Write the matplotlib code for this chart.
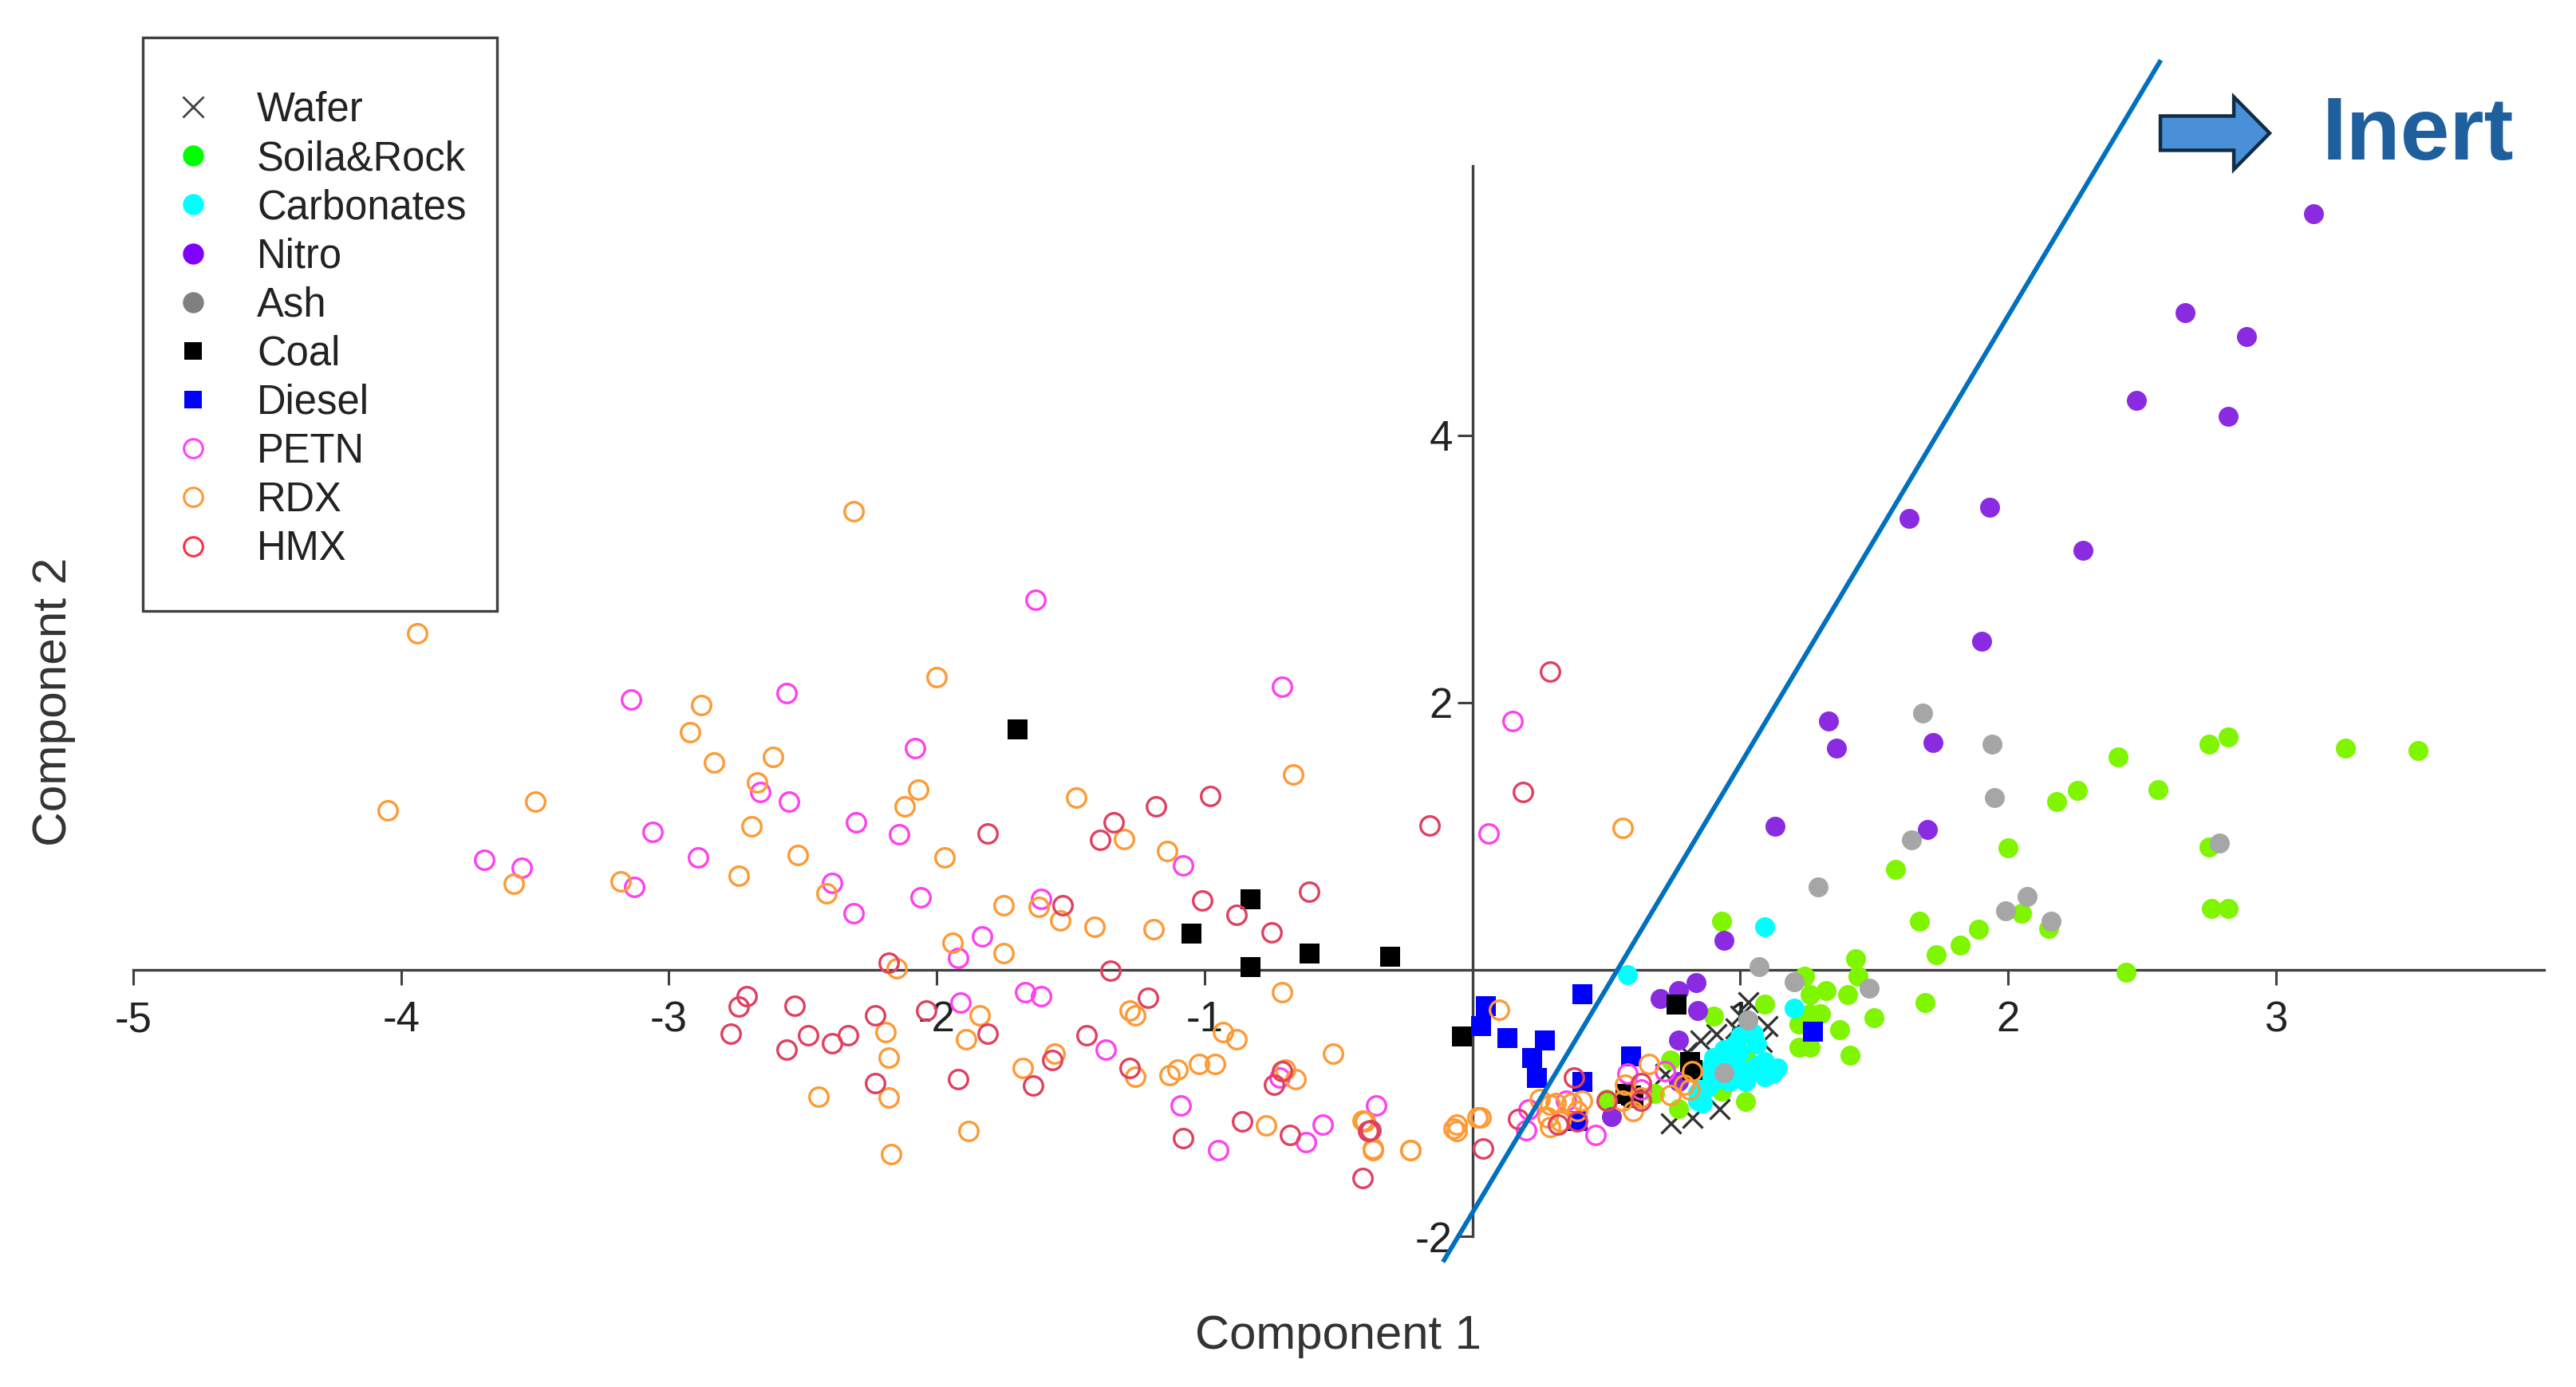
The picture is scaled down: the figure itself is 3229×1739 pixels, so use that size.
import matplotlib
matplotlib.use("Agg")
import matplotlib.pyplot as plt
from matplotlib.lines import Line2D
from matplotlib.patches import Rectangle, FancyArrow

plt.rcParams['font.family'] = ['Liberation Sans', 'DejaVu Sans']
plt.rcParams['axes.unicode_minus'] = False

## PCA scores, (component 1, component 2)
wafer = [(0.74,-1.15),(0.82,-1.11),(0.92,-1.04),(1.08,-0.54),(1.00,-0.34),(1.03,-0.24),(0.85,-0.53),
         (0.91,-0.48),(0.98,-0.44),(0.80,-0.62),(1.10,-0.42),(0.72,-0.78)]
soil = [(2.41,1.59),(2.18,1.26),(2.26,1.34),(2.56,1.35),(2.75,1.69),(2.82,1.74),(3.26,1.66),(3.53,1.64),
        (2.00,0.91),(1.58,0.75),(1.67,0.36),(1.73,0.11),(1.82,0.18),(1.89,0.30),(2.05,0.42),(2.15,0.31),
        (2.44,-0.02),(2.76,0.46),(2.82,0.46),(2.75,0.92),(1.69,-0.25),(0.93,0.36),(1.43,0.08),(1.44,-0.05),
        (1.24,-0.05),(1.26,-0.19),(1.32,-0.16),(1.40,-0.19),(1.09,-0.26),(0.90,-0.35),(1.26,-0.33),(1.30,-0.33),
        (1.22,-0.41),(1.50,-0.36),(1.37,-0.45),(1.22,-0.58),(1.26,-0.58),(1.41,-0.64),(1.02,-0.66),(1.00,-0.66),
        (0.74,-0.68),(0.93,-0.91),(1.02,-0.99),(0.77,-1.04),(0.68,-0.93),(0.50,-0.97)]
carbonates = [(1.09,0.32),(0.58,-0.04),(1.20,-0.29),(1.03,-0.38),(1.05,-0.48),(0.98,-0.56),(0.90,-0.66),
              (1.09,-0.69),(1.12,-0.78),(1.09,-0.80),(1.02,-0.84),(0.98,-0.72),(0.86,-0.80),(0.88,-0.88),
              (0.84,-0.98),(0.94,-0.60),(0.90,-0.74),(1.03,-0.76),(0.95,-0.68),(1.06,-0.72),(0.84,-0.92),
              (0.88,-0.75),(0.92,-0.82),(1.00,-0.62),(1.06,-0.56),(1.08,-0.74),(0.96,-0.84),(1.14,-0.74),
              (0.86,-1.00),(1.00,-0.50)]
nitro = [(3.14,5.66),(2.66,4.92),(2.89,4.74),(2.48,4.26),(2.82,4.14),(2.28,3.14),(1.93,3.46),(1.63,3.38),
         (1.90,2.46),(1.33,1.86),(1.36,1.66),(1.72,1.70),(1.70,1.05),(1.13,1.07),(0.94,0.22),(0.835,-0.10),
         (0.77,-0.16),(0.70,-0.22),(0.84,-0.31),(0.77,-0.53),(0.52,-1.10),(0.77,-0.84)]
ash = [(1.68,1.92),(1.94,1.69),(1.95,1.29),(1.64,0.97),(1.29,0.62),(2.07,0.55),(1.99,0.44),(2.16,0.36),
       (2.79,0.95),(1.07,0.02),(1.20,-0.09),(1.48,-0.14),(1.03,-0.38),(0.94,-0.77)]
coal = [(-1.70,1.80),(-0.83,0.53),(-1.05,0.27),(-0.83,0.02),(-0.61,0.12),(-0.31,0.10),(-0.04,-0.50),
        (0.76,-0.26),(0.81,-0.69),(0.82,-0.75),(0.59,-0.94),(0.57,-0.93),(0.60,-0.96)]
diesel = [(0.05,-0.27),(0.03,-0.42),(0.13,-0.51),(0.27,-0.53),(0.22,-0.66),(0.24,-0.81),(0.41,-0.18),
          (0.41,-0.84),(0.59,-0.65),(0.39,-1.13),(1.27,-0.46)]
petn = [(-1.63,2.77),(-0.71,2.12),(0.15,1.86),(0.06,1.02),(-3.14,2.02),(-2.56,2.07),(-2.08,1.66),(-2.66,1.33),
        (-2.55,1.26),(-2.30,1.10),(-2.14,1.01),(-3.06,1.03),(-2.89,0.84),(-3.69,0.82),(-3.55,0.76),(-3.13,0.62),
        (-2.39,0.65),(-2.31,0.42),(-2.06,0.54),(-1.61,0.53),(-1.08,0.78),(-1.83,0.25),(-1.92,0.09),(-1.91,-0.25),
        (-1.67,-0.17),(-1.61,-0.20),(-1.37,-0.60),(-1.09,-1.02),(-0.95,-1.35),(-0.62,-1.29),(-0.56,-1.16),
        (-0.36,-1.02),(-0.72,-0.81),(0.58,-0.78),(0.72,-0.76),(0.35,-0.98),(0.21,-1.05),(0.20,-1.20),(0.46,-1.24),
        (0.63,-0.90)]
rdx = [(-3.94,2.52),(-2.31,3.43),(-2.00,2.19),(-2.88,1.98),(-2.92,1.78),(-2.83,1.55),(-2.61,1.59),(-2.67,1.40),
       (-2.69,1.07),(-4.05,1.19),(-3.50,1.26),(-3.58,0.64),(-3.18,0.66),(-2.74,0.70),(-2.52,0.86),(-2.41,0.57),
       (-2.12,1.22),(-2.07,1.35),(-1.97,0.84),(-1.75,0.48),(-1.62,0.47),(-1.54,0.37),(-1.41,0.32),(-1.48,1.29),
       (-1.30,0.98),(-1.14,0.89),(-1.19,0.30),(-0.67,1.46),(0.56,1.06),(-1.94,0.20),(-1.75,0.12),(-2.15,0.01),
       (-0.71,-0.17),(-1.28,-0.31),(-1.26,-0.34),(-1.84,-0.34),(-2.19,-0.47),(-2.18,-0.66),(-1.89,-0.52),
       (-1.56,-0.63),(-1.68,-0.74),(-1.26,-0.80),(-1.13,-0.79),(-1.10,-0.75),(-1.02,-0.71),(-0.96,-0.71),
       (-0.93,-0.47),(-0.88,-0.52),(-0.70,-0.75),(-0.66,-0.82),(-0.52,-0.63),(-0.77,-1.17),(-0.41,-1.13),
       (-0.37,-1.34),(-0.23,-1.35),(-2.17,-1.38),(-1.88,-1.21),(-2.44,-0.95),(-2.18,-0.96),(-0.07,-1.19),
       (0.02,-1.11),(0.10,-0.30),(0.03,-1.11),(-0.06,-1.16),(-0.06,-1.21),(-0.23,-1.35),(-0.37,-1.35),(-0.40,-1.14),
       (0.66,-0.71),(0.82,-0.76),(0.79,-0.86),(0.81,-0.90),(0.74,-0.94),(0.57,-0.86),(0.56,-0.98),(0.63,-0.96),
       (0.60,-1.06),(0.25,-0.97),(0.29,-1.01),(0.41,-0.98),(0.28,-1.11),(0.33,-1.14),(0.29,-1.18),(0.39,-1.06),
       (0.37,-1.00),(0.31,-1.00)]
hmx = [(0.29,2.23),(0.19,1.33),(-0.16,1.08),(-0.98,1.30),(-1.18,1.22),(-1.34,1.10),(-1.39,0.97),(-1.81,1.02),
       (-1.01,0.52),(-0.88,0.41),(-0.75,0.28),(-0.61,0.58),(-1.53,0.48),(-1.35,-0.01),(-2.18,0.05),(-2.71,-0.20),
       (-2.74,-0.28),(-2.77,-0.48),(-2.53,-0.27),(-2.48,-0.49),(-2.56,-0.60),(-2.39,-0.55),(-2.33,-0.49),
       (-2.23,-0.34),(-2.04,-0.31),(-1.81,-0.48),(-2.23,-0.85),(-1.92,-0.82),(-1.64,-0.87),(-1.44,-0.49),
       (-1.21,-0.21),(-1.28,-0.74),(-1.57,-0.68),(-1.08,-1.26),(-0.86,-1.14),(-0.68,-1.24),(-0.74,-0.86),
       (-0.71,-0.76),(-0.39,-1.21),(-0.41,-1.56),(0.04,-1.34),(0.38,-0.81),(0.50,-0.98),(0.63,-0.85),(0.17,-1.12),
       (0.32,-1.16),(0.39,-1.14),(-0.38,-1.20),(0.63,-0.98)]

labels = ['Wafer', 'Soila&Rock', 'Carbonates', 'Nitro', 'Ash', 'Coal', 'Diesel', 'PETN', 'RDX', 'HMX']
all_series = [wafer, soil, carbonates, nitro, ash, coal, diesel, petn, rdx, hmx]
markers = ['x', 'o', 'o', 'o', 'o', 's', 's', 'o', 'o', 'o']
colors = ['#333333', '#7FF500', '#00FFFF', '#8A2BE2', '#A6A6A6', '#000000', '#0000FF', '#FF40F0', '#FF9933', '#E0405F']
legend_colors = ['#444444', '#00FF00', '#00FFFF', '#7F00FF', '#808080', '#000000', '#0000FF', '#FF40FF', '#FF9933', '#FF3040']
hollow = [False, False, False, False, False, False, False, True, True, True]

boundary_x = [-0.11, 2.57]
boundary_y = [-2.19, 6.81]

x_ticks = [-5, -4, -3, -2, -1, 1, 2, 3]
y_ticks = [-2, 2, 4]

fig = plt.figure(figsize=(32.3, 17.39), dpi=100)
ax = fig.add_axes([0, 0, 1, 1])
ax.set_xlim(-5.497, 4.123)
ax.set_ylim(-3.126, 7.26)
ax.patch.set_alpha(0)

for i in range(len(all_series)):
    xs = [p[0] for p in all_series[i]]
    ys = [p[1] for p in all_series[i]]
    if markers[i] == 'x':
        ax.plot(xs, ys, 'x', color=colors[i], ms=18, mew=2.4, zorder=3)
    elif hollow[i]:
        ax.plot(xs, ys, 'o', mfc='none', mec=colors[i], ms=17, mew=2.4, zorder=3)
    else:
        ax.plot(xs, ys, markers[i], color=colors[i], ms=18, mew=0, zorder=3)

ax.plot(boundary_x, boundary_y, '-', color='#0070C0', lw=4.2, zorder=4, solid_capstyle='butt')

## axes cross at the origin
for side in ['top', 'right']:
    ax.spines[side].set_visible(False)
ax.spines['bottom'].set_position(('data', 0))
ax.spines['left'].set_position(('data', 0))
ax.spines['bottom'].set_bounds(-5, 4.0)
ax.spines['left'].set_bounds(-2, 6.02)
ax.spines['bottom'].set_linewidth(2.4)
ax.spines['left'].set_linewidth(2.4)
ax.spines['bottom'].set_color('#404040')
ax.spines['left'].set_color('#404040')
ax.set_xticks(x_ticks)
ax.set_yticks(y_ticks)
ax.tick_params(axis='x', direction='out', length=14, width=2.2, color='#404040', labelsize=38, pad=14, labelcolor='#222222')
ax.tick_params(axis='y', direction='out', length=14, width=2.2, color='#404040', labelsize=38, pad=4, labelcolor='#222222')

ax.text(0.5192, 0.0365, 'Component 1', transform=ax.transAxes, fontsize=43, color='#333333', ha='center', va='center')
ax.text(0.0208, 0.4942, 'Component 2', transform=ax.transAxes, fontsize=43.5, color='#333333', ha='center', va='center', rotation=90)

## legend box is separate from the legend so the padding can be set freely
ax.add_patch(Rectangle((0.0553, 0.5595), 0.1375, 0.4132, transform=ax.transAxes, fc='white', ec='#404040', lw=2.4, zorder=5))
handles = []
for i in range(len(labels)):
    if hollow[i]:
        h = Line2D([], [], ls='none', marker='o', mfc='none', mec=legend_colors[i], ms=17, mew=2.2)
    elif markers[i] == 'x':
        h = Line2D([], [], ls='none', marker='x', color=legend_colors[i], ms=19, mew=2)
    elif markers[i] == 's':
        h = Line2D([], [], ls='none', marker='s', color=legend_colors[i], ms=16, mew=0)
    else:
        h = Line2D([], [], ls='none', marker='o', color=legend_colors[i], ms=19, mew=0)
    handles.append(h)
leg = ax.legend(handles, labels, loc='upper left', bbox_to_anchor=(0.0702, 0.9345), borderaxespad=0, borderpad=0,
                frameon=False, fontsize=36.5, labelspacing=0.24, handlelength=0.6, handletextpad=1.28, numpoints=1,
                labelcolor='#222222')
leg.set_zorder(6)

## Inert annotation
ax.add_patch(FancyArrow(0.8384, 0.904, 0.0424, 0, width=0.0247, head_width=0.0523, head_length=0.0139,
                        length_includes_head=True, transform=ax.transAxes, fc='#4A90D9', ec='#0F2D45', lw=3.2, zorder=5))
ax.text(0.9012, 0.885, 'Inert', transform=ax.transAxes, fontsize=80, fontweight='bold', color='#1F5F9E', ha='left', va='baseline')

plt.savefig('out.png', dpi=100)
